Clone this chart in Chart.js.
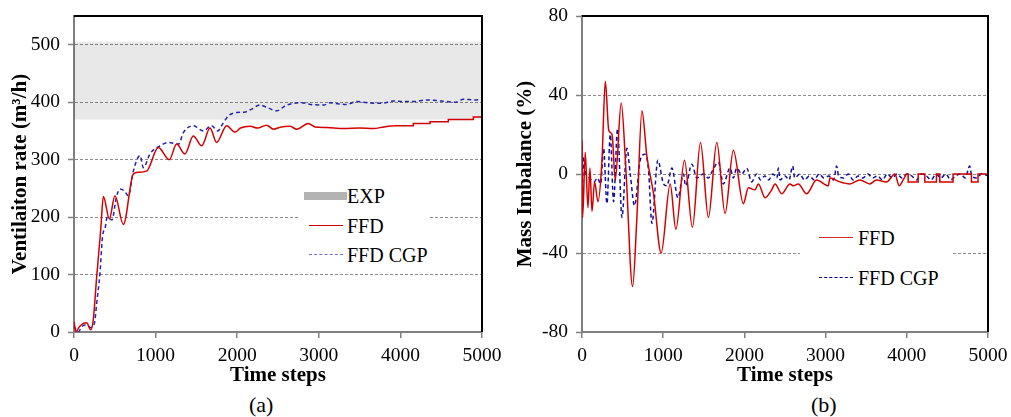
<!DOCTYPE html>
<html>
<head>
<meta charset="utf-8">
<script src="https://cdn.jsdelivr.net/npm/chart.js@4.4.1/dist/chart.umd.min.js"></script>
<style>
  body { margin: 0; background: #fff; }
  #wrap { position: relative; width: 1011px; height: 417px; overflow: hidden; font-family: 'Liberation Serif', 'Times New Roman', serif; }
  canvas { position: absolute; top: 0; }
  .box { position: absolute; background: #fff; }
  .txt { position: absolute; font-size: 20px; line-height: 20px; color: #000; white-space: nowrap; }
  .ln { position: absolute; height: 0; }
  .cap { position: absolute; font-size: 22px; line-height: 22px; color: #000; }
</style>
</head>
<body>
<div id="wrap">
  <canvas id="chartA" width="505" height="392" style="left:0"></canvas>
  <canvas id="chartB" width="506" height="392" style="left:505px"></canvas>

  <!-- legend (a) -->
  <div class="box" style="left:300px;top:182px;width:130px;height:86px"></div>
  <div class="box" style="left:304px;top:192px;width:43px;height:8px;background:#b3b3b3"></div>
  <div class="txt" style="left:347px;top:186px">EXP</div>
  <div class="ln" style="left:309px;top:225px;width:34px;border-top:1.5px solid #cc0000"></div>
  <div class="txt" style="left:347px;top:216px">FFD</div>
  <div class="ln" style="left:309px;top:254px;width:34px;border-top:1.5px dashed #6f6fcc"></div>
  <div class="txt" style="left:347px;top:245px">FFD CGP</div>

  <!-- legend (b) -->
  <div class="box" style="left:800px;top:215px;width:152px;height:80px"></div>
  <div class="ln" style="left:819px;top:237px;width:34px;border-top:1.5px solid #d03030"></div>
  <div class="txt" style="left:858px;top:228px">FFD</div>
  <div class="ln" style="left:819px;top:277px;width:34px;border-top:1.5px dashed #000090"></div>
  <div class="txt" style="left:858px;top:268px">FFD CGP</div>

  <div class="cap" style="left:249px;top:394px">(a)</div>
  <div class="cap" style="left:811px;top:394px">(b)</div>
</div>
<script>
// ---- data (a): ventilation rate ----
var aFfdX = [0, 25, 60, 115, 155, 205, 235, 278, 327, 360, 433, 502, 605, 727, 790, 890, 1033, 1168, 1258, 1360, 1462, 1565, 1667, 1748, 1871, 1973, 2040, 2160, 2250, 2360, 2443, 2540, 2647, 2729, 2871, 2953, 3100, 3300, 3500, 3668, 3800, 3913];
var aFfdY = [18, 0, 8, 15, 16, 4, 20, 96, 177, 236, 197, 237, 187, 275, 278, 280, 321, 300, 327, 310, 341, 324, 355, 330, 359, 348, 355, 358, 355, 360, 353, 357, 358, 353, 363, 357, 356, 354, 355, 354, 357, 359];
var aFfdTailX = [3913, 4158, 4363, 4587, 4894, 5000];
var aFfdTailY = [359, 363, 366, 370, 374, 374];
var aCgpX = [0, 50, 100, 150, 200, 250, 278, 318, 351, 380, 408, 465, 520, 564, 620, 666, 727, 809, 850, 931, 1054, 1160, 1283, 1340, 1462, 1584, 1686, 1760, 1830, 1891, 1993, 2100, 2177, 2280, 2380, 2484, 2606, 2790, 2900, 3064, 3137, 3250, 3341, 3464, 3600, 3770, 3914, 4050, 4160, 4321, 4500, 4680, 4771, 4900, 5000];
var aCgpY = [10, 0, 10, 12, 8, 15, 50, 102, 168, 180, 200, 195, 235, 249, 245, 237, 280, 307, 286, 310, 324, 330, 327, 347, 359, 350, 359, 350, 364, 376, 382, 383, 388, 395, 390, 385, 395, 399, 396, 395, 399, 397, 396, 401, 399, 398, 402, 401, 401, 404, 402, 400, 405, 404, 405];
var expX = [0, 5000];
var expLow = [370, 370];
var expHigh = [505, 505];
var aTicksY = [0, 550, 100];

// ---- data (b): mass imbalance ----
var bFfdX = [0, 8, 40, 73, 98, 123, 155, 197, 246, 287, 330, 370, 410, 483, 541, 623, 676, 738, 799, 881, 975, 1086, 1156, 1262, 1360, 1459, 1557, 1660, 1762, 1864, 1987, 2049, 2131, 2172, 2254, 2336, 2377, 2459, 2561, 2602, 2664, 2766, 2889, 3033, 3053, 3176, 3299, 3422, 3545, 3627, 3750, 3853, 3906, 3955, 3996];
var bFfdY = [17, -22, 11, -17, 3, -19, -4, -14, 7, 47, 22, 20, -3, 36, 2, -57, -22, 32, 9, -10, -40, -5, -28, 7, -27, 16, -22, 16, -20, 12, -15, -7, -8, -5, -12, -8, -5, -10, -5, -6, -5, -10, -3, -6, -2, -4, -5, -3, -5, -3, -4, 0, -6, -3, 0];
var bFfdTailX = [3996, 4017, 4140, 4222, 4365, 4406, 4570, 4796, 4877, 5000];
var bFfdTailY = [0, -4, 0, -4, 0, -4, 0, -4, 0, 0];
var bCgpX = [0, 5, 12, 25, 50, 90, 150, 190, 230, 266, 307, 348, 389, 438, 492, 553, 594, 647, 717, 778, 819, 861, 934, 1004, 1045, 1107, 1181, 1250, 1275, 1353, 1414, 1496, 1557, 1598, 1680, 1741, 1823, 1864, 1905, 1967, 2028, 2090,
  2150, 2200, 2250, 2300, 2350, 2400, 2418, 2440, 2500, 2550, 2594, 2620, 2680, 2740, 2800, 2860, 2920, 2980, 3040, 3100, 3136, 3160, 3220, 3280, 3340, 3400, 3460, 3520, 3580, 3640, 3700, 3760, 3820, 3880, 3940, 4000, 4060, 4120, 4180, 4240, 4300, 4360, 4420, 4480, 4540, 4600, 4660, 4720, 4775, 4800, 4860, 4920, 5000];
var bCgpY = [14, -13, 9, 4, 0, -2, -4, -2, -5, 13, -15, 20, -14, 23, -22, 13, 0, -16, 7, 10, 2, -25, 7, -5, -6, 3, -12, 0, -6, 5, -2, 0, -2, 1, 6, -5, 3, -2, 3, 0, 3, -4,
  0, -3, -1, -3, 0, -2, 3, -3, -1, -3, 4, -2, 0, -3, -1, -3, 0, -2, -1, -3, 4, -1, -2, 0, -3, -1, -2, 0, -2, -1, -3, 0, -2, 0, -2, 0, -1, -3, 0, -1, -3, 0, -2, 0, -3, -1, 0, -2, 4, -1, -2, 0, -1];
var bTicksY = [-80, 80, 40];
var xTicks = [0, 5000, 1000];

var serif = "'Liberation Serif', 'Times New Roman', serif";

function pts(xs, ys) {
    return xs.map(function (x, i) { return {x: x, y: ys[i]}; });
}

function plain(v) { return String(v); }

// top + right black frame
var framePlugin = {
    id: 'frame',
    afterDraw: function (chart) {
        var ctx = chart.ctx, a = chart.chartArea;
        ctx.save();
        ctx.strokeStyle = '#000';
        ctx.lineWidth = 2;
        ctx.beginPath();
        ctx.moveTo(a.left, a.top);
        ctx.lineTo(a.right, a.top);
        ctx.lineTo(a.right, a.bottom);
        ctx.stroke();
        ctx.restore();
    }
};

function makeOptions(yTicks, yTitle, yWidth) {
    return {
        responsive: false,
        animation: false,
        layout: {padding: {top: 16, right: 23, left: 0, bottom: 0}},
        plugins: {legend: {display: false}, tooltip: {enabled: false}},
        elements: {point: {radius: 0}},
        scales: {
            x: {
                type: 'linear',
                min: xTicks[0], max: xTicks[1],
                ticks: {stepSize: xTicks[2], callback: plain, color: '#000', padding: 6, maxRotation: 0, font: {family: serif, size: 19.5}},
                grid: {display: true, drawOnChartArea: false, tickLength: 6, color: '#808080', lineWidth: 1.5},
                border: {color: '#808080', width: 2},
                title: {display: true, text: 'Time steps', color: '#000', padding: {top: 0, bottom: 4}, font: {family: serif, size: 21, weight: 'bold'}},
                afterFit: function (s) { s.height = 60; s.paddingLeft = 0; s.paddingRight = 0; }
            },
            y: {
                type: 'linear',
                min: yTicks[0], max: yTicks[1],
                ticks: {stepSize: yTicks[2], includeBounds: false, callback: plain, color: '#000', padding: 8, font: {family: serif, size: 19.5}},
                grid: {color: '#8c8c8c', lineWidth: 1, tickLength: 6, tickColor: '#808080', tickWidth: 1.5, tickBorderDash: []},
                border: {color: '#808080', width: 2, dash: [3, 2]},
                title: {display: true, text: yTitle, color: '#000', padding: {top: 8, bottom: 0}, font: {family: serif, size: 21, weight: 'bold'}},
                afterFit: function (s) { s.width = yWidth; s.paddingTop = 0; s.paddingBottom = 0; }
            }
        }
    };
}

// chart (a)
var optsA = makeOptions(aTicksY, 'Ventilaiton rate (m\u00b3/h)', 74);
var chartA = new Chart(document.getElementById('chartA').getContext('2d'), {
    type: 'line',
    data: {
        datasets: [
            {label: 'FFD', data: pts(aFfdX, aFfdY), borderColor: '#d40000', borderWidth: 1.5, tension: 0.4, cubicInterpolationMode: 'monotone', fill: false},
            {label: 'FFD tail', data: pts(aFfdTailX, aFfdTailY), borderColor: '#d40000', borderWidth: 1.5, stepped: true, fill: false},
            {label: 'FFD CGP', data: pts(aCgpX, aCgpY), borderColor: '#2222b4', borderWidth: 1.5, borderDash: [4, 3], tension: 0.3, cubicInterpolationMode: 'monotone', fill: false},
            {label: 'EXP low', data: pts(expX, expLow), borderWidth: 0, borderColor: 'rgba(0,0,0,0)', fill: false},
            {label: 'EXP', data: pts(expX, expHigh), borderWidth: 0, borderColor: 'rgba(0,0,0,0)', fill: '-1', backgroundColor: 'rgba(0,0,0,0.09)'}
        ]
    },
    options: optsA,
    plugins: [framePlugin]
});

// chart (b)
var optsB = makeOptions(bTicksY, 'Mass Imbalance (%)', 77);
var chartB = new Chart(document.getElementById('chartB').getContext('2d'), {
    type: 'line',
    data: {
        datasets: [
            {label: 'FFD', data: pts(bFfdX, bFfdY), borderColor: '#d40000', borderWidth: 1.5, tension: 0.4, cubicInterpolationMode: 'monotone', fill: false},
            {label: 'FFD tail', data: pts(bFfdTailX, bFfdTailY), borderColor: '#d40000', borderWidth: 1.5, stepped: true, fill: false},
            {label: 'FFD CGP', data: pts(bCgpX, bCgpY), borderColor: '#1010a0', borderWidth: 1.5, borderDash: [4, 3], tension: 0.3, cubicInterpolationMode: 'monotone', fill: false}
        ]
    },
    options: optsB,
    plugins: [framePlugin]
});
</script>
</body>
</html>
